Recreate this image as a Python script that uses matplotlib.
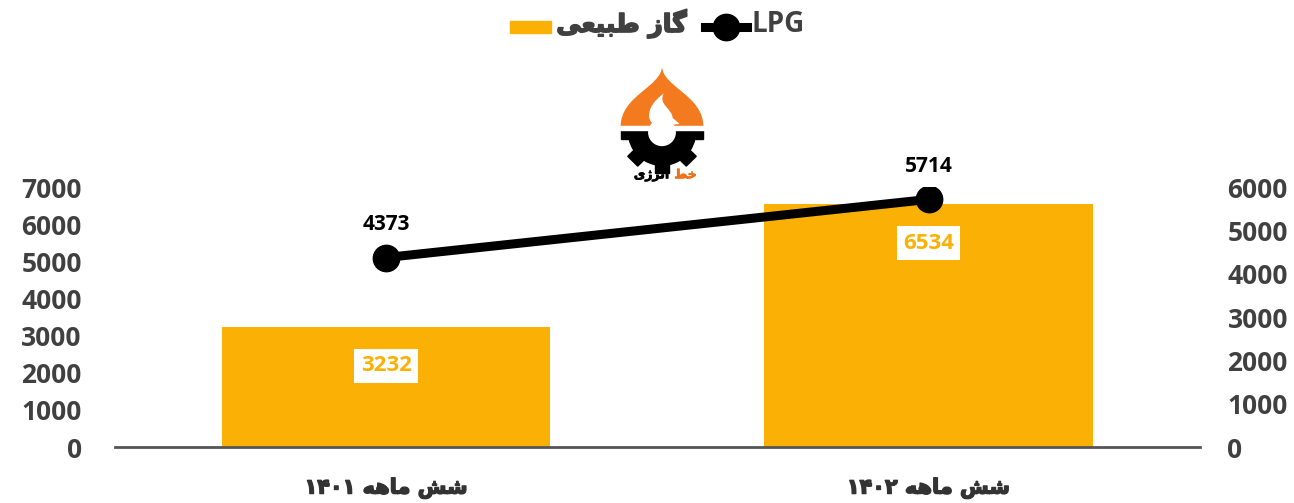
import numpy as np
import matplotlib.pyplot as plt
from matplotlib.patches import Circle, Rectangle, PathPatch
from matplotlib.path import Path
from matplotlib.lines import Line2D
import matplotlib.transforms as mtransforms
import matplotlib.patheffects as pe

# Persian text is written in presentation forms, visual order (matplotlib has no shaping)
categories = ['\u06F1\u06F4\u06F0\u06F1 \uFEEA\uFEEB\uFE8E\uFEE3 \uFEB6\uFEB7',
              '\u06F1\u06F4\u06F0\u06F2 \uFEEA\uFEEB\uFE8E\uFEE3 \uFEB6\uFEB7']
gas = [3232, 6534]
lpg = [4373, 5714]
gas_name = '\uFBFD\uFECC\uFBFF\uFE92\uFEC3 \uFEAF\uFE8E\uFB94'
lpg_name = 'LPG'
left_ticks = [0, 1000, 2000, 3000, 4000, 5000, 6000, 7000]
right_ticks = [0, 1000, 2000, 3000, 4000, 5000, 6000]
logo_word_1 = '\uFEC2\uFEA7'
logo_word_2 = '\uFBFC\uFB8A\uFEAE\uFEE7\uFE8D'

ORANGE = '#FBB006'
GREY = '#404040'
FA = ['DejaVu Sans']
NUM = ['Open Sans', 'DejaVu Sans']


def heavy(color, w=1.0):
    # DejaVu has no bold Arabic, so thicken the glyphs a little with a stroke
    return [pe.withStroke(linewidth=w, foreground=color)]


fig = plt.figure(figsize=(12.94, 5.03), dpi=100)
ax = fig.add_axes([0.0889, 0.1113, 0.8382, 0.5169])
ax2 = ax.twinx()

x = np.arange(len(categories))
bars = ax.bar(x, gas, width=0.605, color=ORANGE, zorder=2)
line, = ax2.plot(x, lpg, color='black', lw=6.5, marker='o', markersize=19,
                 solid_capstyle='round', zorder=3)

ax.set_xlim(-0.5, 1.5)
ax.set_ylim(0, 7000)
ax2.set_ylim(0, 6000)
ax.set_yticks(left_ticks)
ax2.set_yticks(right_ticks)
ax.set_xticks(x)
ax.set_xticklabels(categories, family=FA, fontsize=15, fontweight='bold', color='#333333')
for lab in ax.get_xticklabels():
    lab.set_path_effects(heavy('#333333', 1.0))

for a in (ax, ax2):
    for s in ['top', 'left', 'right', 'bottom']:
        a.spines[s].set_visible(False)
    a.tick_params(length=0)
ax.spines['bottom'].set_visible(True)
ax.spines['bottom'].set_color('#555555')
ax.spines['bottom'].set_linewidth(2)
ax.tick_params(axis='y', pad=24)
ax2.tick_params(axis='y', pad=20)
ax.tick_params(axis='x', pad=22)
for lab in ax.get_yticklabels() + ax2.get_yticklabels():
    lab.set_family(NUM)
    lab.set_fontsize(19)
    lab.set_fontweight('bold')
    lab.set_color(GREY)

# data labels
for xi, v in zip(x, gas):
    ax.annotate(str(v), (xi, v), xytext=(0, -28), textcoords='offset points',
                ha='center', va='center', family=NUM, fontsize=16, fontweight='bold',
                color=ORANGE, zorder=5,
                bbox=dict(boxstyle='square,pad=0.28', fc='white', ec='none'))
for xi, v in zip(x, lpg):
    ax2.annotate(str(v), (xi, v), xytext=(0, 24), textcoords='offset points',
                 ha='center', va='center', family=NUM, fontsize=15, fontweight='bold',
                 color='black', zorder=5)

# legend
h1 = Rectangle((0, 0), 1, 1, color=ORANGE)
h2 = Line2D([], [], color='black', lw=6.5, marker='o', markersize=19)
leg = fig.legend([h1, h2], [gas_name, lpg_name], loc='center', ncol=2,
                 bbox_to_anchor=(0.508, 0.952), frameon=False, handlelength=3.0,
                 handleheight=0.9, handletextpad=0.35, columnspacing=1.3)
for t in leg.get_texts():
    t.set_fontweight('bold')
    t.set_color(GREY)
    t.set_fontsize(20)
leg.get_texts()[0].set_family(FA)
leg.get_texts()[0].set_fontsize(18)
leg.get_texts()[0].set_path_effects(heavy(GREY, 1.2))
leg.get_texts()[1].set_family(NUM)

# logo (approximation)
lax = fig.add_axes([618 / 1294, 1 - 180 / 503, 88 / 1294, 114 / 503])
lax.set_xlim(0, 1)
lax.set_ylim(0, 1.32)
lax.axis('off')
gc = (0.5, 0.55)
for ang in np.arange(0, 360, 45):
    r = Rectangle((-0.08, 0), 0.16, 0.47, color='black')
    r.set_transform(mtransforms.Affine2D().rotate_deg(ang).translate(*gc) + lax.transData)
    lax.add_patch(r)
lax.add_patch(Circle(gc, 0.38, color='black'))
dome = Path([(0.03, 0.62), (0.03, 0.98), (0.5, 1.08), (0.5, 1.32),
             (0.5, 1.08), (0.97, 0.98), (0.97, 0.62), (0.03, 0.62)],
            [Path.MOVETO, Path.CURVE4, Path.CURVE4, Path.CURVE4,
             Path.CURVE4, Path.CURVE4, Path.CURVE4, Path.CLOSEPOLY])
lax.add_patch(PathPatch(dome, fc='#F37A1F', ec='none'))
lax.add_patch(Rectangle((0.0, 0.58), 1.0, 0.05, color='white'))
flame = Path([(0.5, 0.62), (0.3, 0.62), (0.3, 0.85), (0.52, 1.0),
              (0.45, 0.88), (0.62, 0.82), (0.62, 0.72), (0.7, 0.65), (0.5, 0.62)],
             [Path.MOVETO, Path.CURVE4, Path.CURVE4, Path.CURVE4,
              Path.CURVE4, Path.CURVE4, Path.CURVE4, Path.LINETO, Path.CLOSEPOLY])
lax.add_patch(PathPatch(flame, fc='white', ec='none'))
lax.add_patch(Circle(gc, 0.15, color='white'))
lax.text(0.58, 0.06, logo_word_2, family=FA, fontsize=9, fontweight='bold',
         color='black', ha='right', va='center', path_effects=heavy('black', 0.5))
lax.text(0.64, 0.06, logo_word_1, family=FA, fontsize=9, fontweight='bold',
         color='#E8731A', ha='left', va='center', path_effects=heavy('#E8731A', 0.5))

fig.savefig('out.png', dpi=100)
